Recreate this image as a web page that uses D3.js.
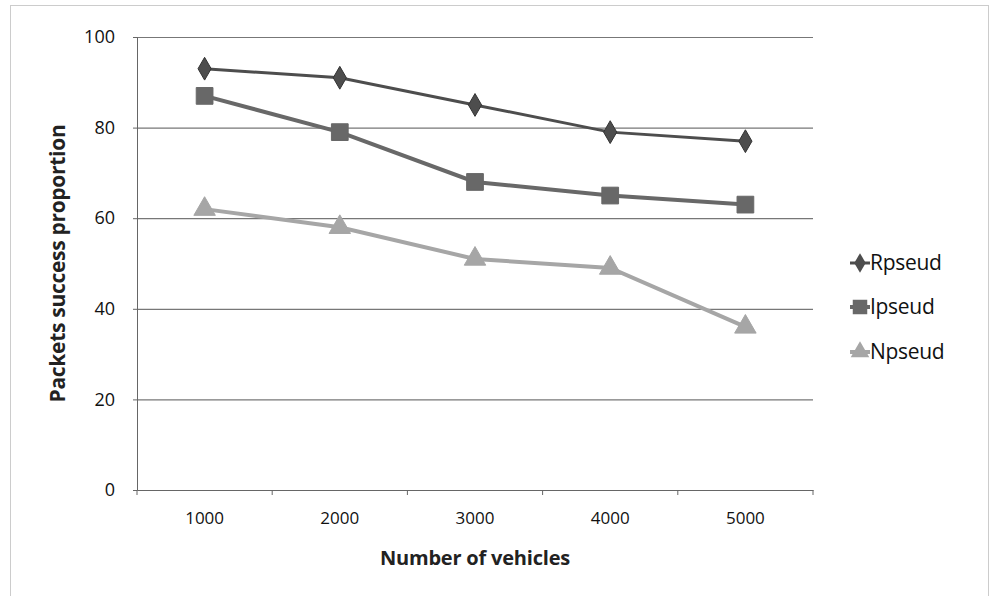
<!DOCTYPE html>
<html><head><meta charset="utf-8">
<script src="https://cdn.jsdelivr.net/npm/d3@7"></script>
<style>body{margin:0;background:#fff;font-family:"Open Sans",sans-serif}</style>
</head><body><svg id="c" width="992" height="596"></svg>
<script>
const categories = ["1000","2000","3000","4000","5000"];
const rpseud = [93, 91, 85, 79, 77];
const ipseud = [87, 79, 68, 65, 63];
const npseud = [62, 58, 51, 49, 36];
const yTicks = [0, 20, 40, 60, 80, 100];
const seriesNames = ["Rpseud", "Ipseud", "Npseud"];

const FF = "'Open Sans',sans-serif";
const svg = d3.select("#c");
const L = 137, R = 813, T = 37, B = 490;
const x = d3.scaleBand().domain(categories).range([L, R]);
const y = d3.scaleLinear().domain([0, 100]).range([B, T]);

// frame
svg.append("rect").attr("x", 10.5).attr("y", 5.5).attr("width", 978).attr("height", 600)
  .attr("fill", "none").attr("stroke", "#999").attr("stroke-dasharray", "1,1");

// gridlines
svg.append("g").selectAll("line").data(yTicks.filter(d => d > 0)).join("line")
  .attr("x1", L).attr("x2", R).attr("y1", d => y(d) + 0.5).attr("y2", d => y(d) + 0.5)
  .attr("stroke", "#777").attr("stroke-width", 1.2);

// y axis
const ya = svg.append("g").attr("transform", `translate(${L},0)`)
  .call(d3.axisLeft(y).tickValues(yTicks).tickSize(4).tickPadding(18));
ya.select(".domain").attr("stroke", "#666");
ya.selectAll(".tick line").attr("stroke", "#666");
ya.selectAll("text").attr("font-size", 18).attr("fill", "#111").attr("font-family", FF);

// x axis
const xa = svg.append("g").attr("transform", `translate(0,${B})`)
  .call(d3.axisBottom(x).tickSize(0).tickPadding(22));
xa.select(".domain").attr("stroke", "#666");
xa.selectAll("text").attr("font-size", 17).attr("fill", "#111").attr("font-family", FF);
const edges = categories.map(c => x(c)).concat([R]);
svg.append("g").selectAll("line").data(edges).join("line")
  .attr("x1", d => d).attr("x2", d => d).attr("y1", B).attr("y2", B + 5).attr("stroke", "#666");

// axis titles
svg.append("text").attr("x", 475).attr("y", 565).attr("text-anchor", "middle")
  .attr("font-weight", "bold").attr("font-size", 20).attr("fill", "#222").attr("font-family", FF)
  .attr("letter-spacing", -0.2).text("Number of vehicles");
svg.append("text").attr("transform", `translate(65,${(T + B) / 2}) rotate(-90)`)
  .attr("text-anchor", "middle").attr("font-weight", "bold").attr("font-size", 21).attr("fill", "#222")
  .attr("font-family", FF).attr("letter-spacing", -0.3).text("Packets success proportion");

const cx = c => x(c) + x.bandwidth() / 2;
const series = [
  {name: seriesNames[0], vals: rpseud, color: "#4d4d4d", shape: d3.symbolDiamond, w: 3, size: 150},
  {name: seriesNames[1], vals: ipseud, color: "#686868", shape: d3.symbolSquare, w: 4, size: 280},
  {name: seriesNames[2], vals: npseud, color: "#a6a6a6", shape: d3.symbolTriangle, w: 4, size: 200}
];
const line = d3.line().x((d, i) => cx(categories[i])).y(d => y(d));
series.forEach(s => {
  svg.append("path").datum(s.vals).attr("d", line).attr("fill", "none")
    .attr("stroke", s.color).attr("stroke-width", s.w);
  svg.append("g").selectAll("path").data(s.vals).join("path")
    .attr("transform", (d, i) => `translate(${cx(categories[i])},${y(d)})`)
    .attr("d", d3.symbol().type(s.shape).size(s.size))
    .attr("fill", s.color).attr("stroke", s.color === "#4d4d4d" ? "#333" : s.color).attr("stroke-width", 1);
});

// legend
const ly = [263, 307, 352];
series.forEach((s, i) => {
  const g = svg.append("g").attr("transform", `translate(850,${ly[i]})`);
  g.append("line").attr("x1", 0).attr("x2", 20).attr("y1", 0).attr("y2", 0)
    .attr("stroke", s.color).attr("stroke-width", s.w);
  g.append("path").attr("transform", "translate(10,0)")
    .attr("d", d3.symbol().type(s.shape).size(s.size * 0.75)).attr("fill", s.color);
  g.append("text").attr("x", 20).attr("y", 7).attr("font-size", 21).attr("fill", "#111")
    .attr("font-family", FF).attr("letter-spacing", -0.3).text(s.name);
});
</script></body></html>
